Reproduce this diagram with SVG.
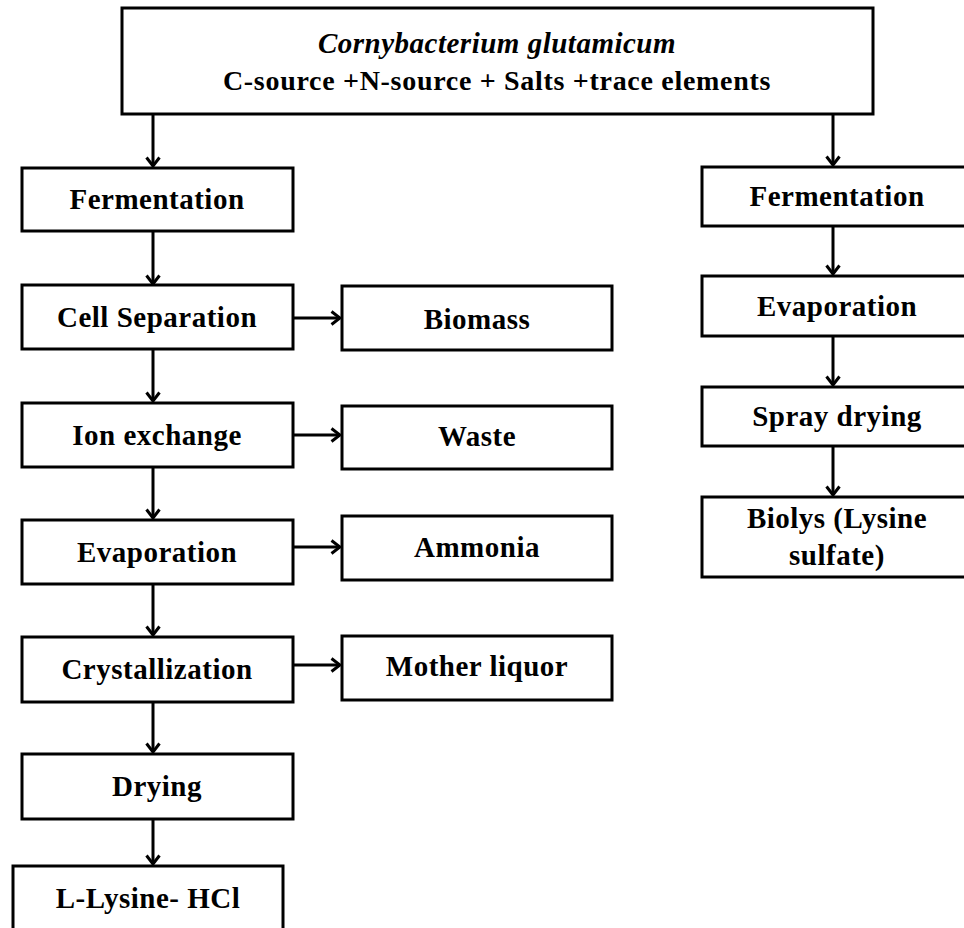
<svg xmlns="http://www.w3.org/2000/svg" width="964" height="928" viewBox="0 0 964 928">
<style>
.box{fill:#fff;stroke:#000;stroke-width:3}
.t{font-family:"Liberation Serif","Times New Roman",serif;font-weight:bold;font-size:29px;letter-spacing:0.5px;text-anchor:middle;fill:#000}
.it{font-style:italic}
.c{stroke:#000;stroke-width:3;fill:none;marker-end:url(#ah)}
</style>
<defs>
<marker id="ah" viewBox="0 0 12 16" refX="10" refY="8" markerWidth="12" markerHeight="16" markerUnits="userSpaceOnUse" orient="auto">
<path d="M1.5,1.5 L10,8 L1.5,14.5" fill="none" stroke="#000" stroke-width="3"/>
</marker>
</defs>
<rect width="964" height="928" fill="#fff"/>
<g id="connectors">
<line class="c" x1="153" y1="114" x2="153" y2="166"/>
<line class="c" x1="153" y1="231" x2="153" y2="284"/>
<line class="c" x1="153" y1="349" x2="153" y2="401"/>
<line class="c" x1="153" y1="467" x2="153" y2="518"/>
<line class="c" x1="153" y1="584" x2="153" y2="635"/>
<line class="c" x1="153" y1="702" x2="153" y2="752"/>
<line class="c" x1="153" y1="819" x2="153" y2="864"/>
<line class="c" x1="293" y1="318" x2="340" y2="318"/>
<line class="c" x1="293" y1="435" x2="340" y2="435"/>
<line class="c" x1="293" y1="547" x2="340" y2="547"/>
<line class="c" x1="293" y1="665" x2="340" y2="665"/>
<line class="c" x1="833" y1="114" x2="833" y2="165"/>
<line class="c" x1="833" y1="226" x2="833" y2="274"/>
<line class="c" x1="833" y1="336" x2="833" y2="385"/>
<line class="c" x1="833" y1="446" x2="833" y2="495"/>
</g>
<g id="source">
<rect class="box" x="122" y="8" width="751" height="106"/>
<text class="t it" x="497" y="53">Cornybacterium glutamicum</text>
<text class="t" x="497" y="90" style="font-size:28px;letter-spacing:0.7px">C-source +N-source + Salts +trace elements</text>
</g>
<g id="fermentation-l">
<rect class="box" x="22" y="168" width="271" height="63"/>
<text class="t" x="157" y="209">Fermentation</text>
</g>
<g id="cell-separation">
<rect class="box" x="22" y="285" width="271" height="64"/>
<text class="t" x="157" y="327">Cell Separation</text>
</g>
<g id="ion-exchange">
<rect class="box" x="22" y="403" width="271" height="64"/>
<text class="t" x="157" y="445">Ion exchange</text>
</g>
<g id="evaporation-l">
<rect class="box" x="22" y="520" width="271" height="64"/>
<text class="t" x="157" y="562">Evaporation</text>
</g>
<g id="crystallization">
<rect class="box" x="22" y="637" width="271" height="65"/>
<text class="t" x="157" y="679">Crystallization</text>
</g>
<g id="drying">
<rect class="box" x="22" y="754" width="271" height="65"/>
<text class="t" x="157" y="796">Drying</text>
</g>
<g id="l-lysine-hcl">
<rect class="box" x="13" y="866" width="270" height="70"/>
<text class="t" x="148" y="908">L-Lysine- HCl</text>
</g>
<g id="biomass">
<rect class="box" x="342" y="286" width="270" height="64"/>
<text class="t" x="477" y="329">Biomass</text>
</g>
<g id="waste">
<rect class="box" x="342" y="406" width="270" height="63"/>
<text class="t" x="477" y="446">Waste</text>
</g>
<g id="ammonia">
<rect class="box" x="342" y="516" width="270" height="64"/>
<text class="t" x="477" y="557">Ammonia</text>
</g>
<g id="mother-liquor">
<rect class="box" x="342" y="636" width="270" height="64"/>
<text class="t" x="477" y="676">Mother liquor</text>
</g>
<g id="fermentation-r">
<rect class="box" x="702" y="167" width="271" height="59"/>
<text class="t" x="837" y="206">Fermentation</text>
</g>
<g id="evaporation-r">
<rect class="box" x="702" y="276" width="271" height="60"/>
<text class="t" x="837" y="316">Evaporation</text>
</g>
<g id="spray-drying">
<rect class="box" x="702" y="387" width="271" height="59"/>
<text class="t" x="837" y="426">Spray drying</text>
</g>
<g id="biolys">
<rect class="box" x="702" y="497" width="271" height="80"/>
<text class="t" x="837" y="528">Biolys (Lysine</text>
<text class="t" x="837" y="565">sulfate)</text>
</g>
</svg>
